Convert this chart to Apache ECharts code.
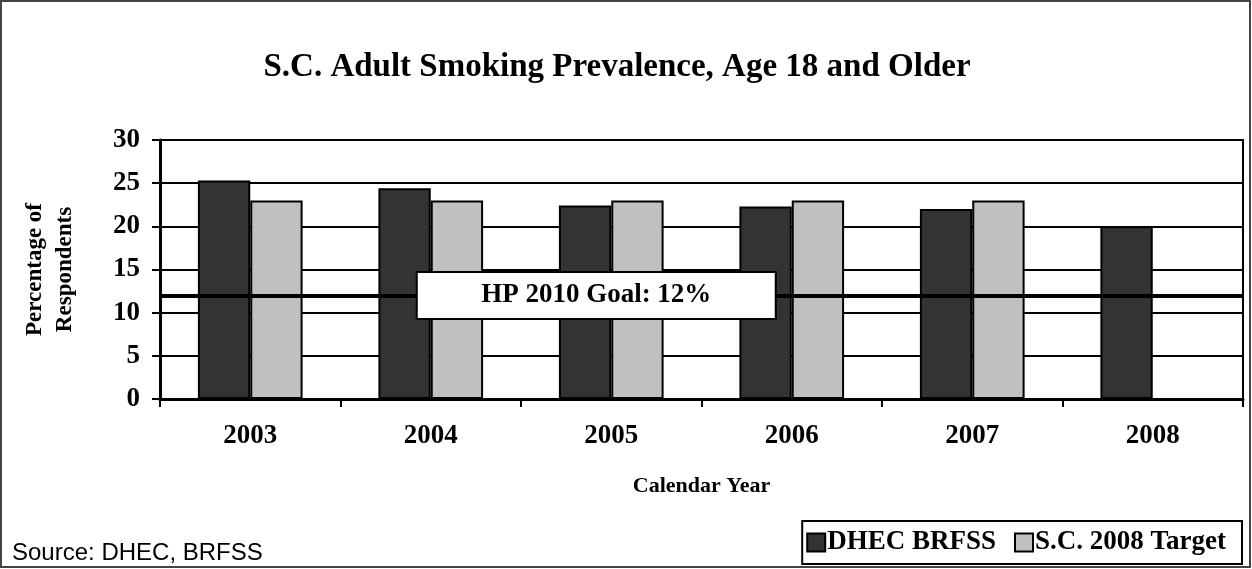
<!DOCTYPE html>
<html>
<head>
<meta charset="utf-8">
<script src="https://cdn.jsdelivr.net/npm/echarts@6/dist/echarts.min.js"></script>
<style>
  html, body { margin: 0; padding: 0; background: #fff; }
  #chart { width: 1252px; height: 569px; }
</style>
</head>
<body>
<div id="chart"></div>
<script>
// Calendar years on the x axis
const years = ['2003', '2004', '2005', '2006', '2007', '2008'];
// Adult smoking prevalence (%) from DHEC BRFSS
const brfssValues = [25.3, 24.4, 22.4, 22.3, 22.0, 20.0];
// S.C. 2008 target (%), no bar for 2008
const targetValues = [23.0, 23.0, 23.0, 23.0, 23.0, null];
// Healthy People 2010 goal (%)
const hpGoal = 12;
// Y axis ticks
const yTicks = { min: 0, max: 30, interval: 5 };

const serif = "'Liberation Serif', 'Times New Roman', serif";

const chart = echarts.init(document.getElementById('chart'), null, { renderer: 'canvas' });

chart.setOption({
  backgroundColor: '#ffffff',
  animation: false,
  title: {
    text: 'S.C. Adult Smoking Prevalence, Age 18 and Older',
    left: 612,
    textAlign: 'center',
    top: 46,
    textStyle: { fontFamily: serif, fontWeight: 'bold', fontSize: 33, color: '#000' }
  },
  grid: {
    left: 160, right: 9, top: 140, bottom: 170,
    show: true, borderColor: '#000', borderWidth: 2, backgroundColor: 'transparent'
  },
  legend: {
    right: 10, top: 521,
    padding: [8, 16, 8, 4],
    itemGap: 18,
    itemWidth: 18, itemHeight: 18,
    icon: 'rect',
    borderColor: '#000', borderWidth: 2,
    backgroundColor: '#fff',
    textStyle: { fontFamily: serif, fontWeight: 'bold', fontSize: 27, color: '#000', padding: [0, 0, 0, -3] },
    data: ['DHEC BRFSS', 'S.C. 2008 Target']
  },
  xAxis: {
    type: 'category',
    data: years,
    name: 'Calendar Year',
    nameLocation: 'middle',
    nameGap: 76,
    nameTextStyle: { fontFamily: serif, fontWeight: 'bold', fontSize: 22, color: '#000' },
    axisLine: { lineStyle: { color: '#000', width: 3 } },
    axisTick: { show: true, length: 8, lineStyle: { color: '#000', width: 2 } },
    axisLabel: { margin: 24, fontFamily: serif, fontWeight: 'bold', fontSize: 27, color: '#000' }
  },
  yAxis: {
    type: 'value',
    min: yTicks.min, max: yTicks.max, interval: yTicks.interval,
    name: 'Percentage of\nRespondents',
    nameLocation: 'middle',
    nameGap: 80,
    nameRotate: 90,
    nameTextStyle: { fontFamily: serif, fontWeight: 'bold', fontSize: 23, color: '#000', lineHeight: 30 },
    axisLine: { show: true, lineStyle: { color: '#000', width: 3 } },
    axisTick: { show: true, length: 8, lineStyle: { color: '#000', width: 2 } },
    axisLabel: { margin: 20, fontFamily: serif, fontWeight: 'bold', fontSize: 27, color: '#000' },
    splitLine: { show: true, lineStyle: { color: '#000', width: 2 } }
  },
  series: [
    {
      name: 'DHEC BRFSS',
      type: 'bar',
      data: brfssValues,
      barGap: '0%',
      barCategoryGap: '42%',
      itemStyle: { color: '#333333', borderColor: '#000', borderWidth: 2 },
      markLine: {
        silent: true,
        symbol: ['none', 'none'],
        z: 6,
        label: { show: false },
        lineStyle: { color: '#000', width: 4, type: 'solid' },
        data: [{ yAxis: hpGoal }]
      }
    },
    {
      name: 'S.C. 2008 Target',
      type: 'bar',
      data: targetValues,
      itemStyle: { color: '#c0c0c0', borderColor: '#000', borderWidth: 2 }
    }
  ]
});

// Goal callout box, anchored on the goal line near the 2005 category
const anchor = chart.convertToPixel({ xAxisIndex: 0, yAxisIndex: 0 }, ['2005', hpGoal]);
const boxW = 359, boxH = 47;
chart.setOption({
  graphic: [
    {
      id: 'frame',
      type: 'rect', silent: true, z: 0,
      shape: { x: 1, y: 1, width: 1249, height: 566 },
      style: { fill: 'none', stroke: '#444', lineWidth: 2 }
    },
    {
      id: 'source',
      type: 'text', left: 12, top: 541, silent: true,
      style: { text: 'Source: DHEC, BRFSS', fontFamily: "'Liberation Sans', Arial, sans-serif", fontSize: 24, fill: '#000' }
    },
    {
      id: 'goalBox',
      type: 'group',
      x: anchor[0] - 15,
      y: anchor[1],
      z: 100,
      silent: true,
      children: [
        {
          type: 'rect', z: 100,
          shape: { x: -boxW / 2, y: -boxH / 2, width: boxW, height: boxH },
          style: { fill: '#fff', stroke: '#000', lineWidth: 2 }
        },
        {
          type: 'text', z: 101,
          x: 0, y: 0,
          style: {
            text: 'HP 2010 Goal: ' + hpGoal + '%',
            align: 'center', verticalAlign: 'middle',
            fontFamily: serif, fontWeight: 'bold', fontSize: 27, fill: '#000'
          }
        }
      ]
    }
  ]
});
</script>
</body>
</html>
